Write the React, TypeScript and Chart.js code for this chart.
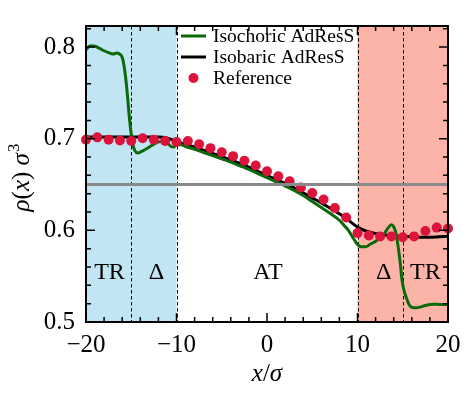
import React, { useEffect, useRef } from 'react';
import { Chart, registerables } from 'chart.js';
Chart.register(...registerables);

// ---- data ----
const xTicks = [-20, -10, 0, 10, 20];
const yTicks = [0.5, 0.6, 0.7, 0.8];

const refX = [-20, -18.75, -17.5, -16.25, -15, -13.75, -12.5, -11.25, -10, -8.75, -7.5, -6.25, -5, -3.75, -2.5, -1.25, 0, 1.25, 2.5, 3.75, 5, 6.25, 7.5, 8.75, 10, 11.25, 12.5, 13.75, 15, 16.25, 17.5, 18.75, 20];
const refY = [0.699, 0.7015, 0.699, 0.698, 0.6975, 0.7005, 0.699, 0.6975, 0.6965, 0.6975, 0.694, 0.6897, 0.6852, 0.681, 0.676, 0.6707, 0.6645, 0.659, 0.6535, 0.6467, 0.6408, 0.6336, 0.6243, 0.614, 0.597, 0.5944, 0.5934, 0.5934, 0.5924, 0.5934, 0.5993, 0.603, 0.602];

const isobaricX = [-20, -19, -18, -17, -16, -15, -14, -13, -12, -11.5, -11, -10.5, -10, -9, -8, -7, -6, -5, -4, -3, -2, -1, 0, 1, 2, 3, 4, 5, 6, 7, 8, 9, 10, 11, 12, 13, 14, 15, 16, 17, 18, 19, 20];
const isobaricY = [0.702, 0.702, 0.702, 0.702, 0.702, 0.702, 0.702, 0.702, 0.702, 0.7015, 0.7005, 0.699, 0.697, 0.694, 0.691, 0.6875, 0.684, 0.6805, 0.677, 0.673, 0.669, 0.6645, 0.66, 0.6555, 0.6515, 0.6465, 0.641, 0.6355, 0.63, 0.624, 0.618, 0.611, 0.6037, 0.599, 0.5965, 0.595, 0.594, 0.5934, 0.593, 0.5925, 0.5925, 0.593, 0.5935];

const isochoricX = [-20, -19.5, -19, -18.5, -18, -17.5, -17, -16.6, -16.3, -16, -15.8, -15.6, -15.4, -15.2, -15, -14.8, -14.6, -14.3, -14, -13.5, -13, -12.5, -12, -11.5, -11, -10.6, -10.3, -10, -9.5, -9, -8, -7, -6, -5, -4, -3, -2, -1, 0, 1, 2, 3, 4, 5, 6, 7, 8, 8.5, 9, 9.5, 10, 10.4, 10.9, 11.4, 12, 12.5, 13, 13.4, 13.75, 14, 14.2, 14.4, 14.55, 14.75, 14.9, 15.1, 15.4, 15.7, 16, 16.5, 17, 17.5, 18, 18.5, 19, 19.5, 20];
const isochoricY = [0.797, 0.8015, 0.801, 0.7985, 0.796, 0.794, 0.7925, 0.7935, 0.7925, 0.789, 0.78, 0.765, 0.745, 0.722, 0.705, 0.693, 0.687, 0.6845, 0.6855, 0.688, 0.691, 0.694, 0.6965, 0.697, 0.695, 0.6915, 0.691, 0.6935, 0.6935, 0.6915, 0.6885, 0.685, 0.6815, 0.678, 0.6745, 0.6705, 0.6665, 0.662, 0.6575, 0.653, 0.6485, 0.6435, 0.638, 0.6315, 0.625, 0.6185, 0.611, 0.6055, 0.6, 0.592, 0.5845, 0.582, 0.582, 0.5848, 0.588, 0.5918, 0.597, 0.603, 0.606, 0.604, 0.5986, 0.588, 0.578, 0.562, 0.547, 0.536, 0.5264, 0.519, 0.516, 0.5155, 0.5165, 0.518, 0.519, 0.5195, 0.5192, 0.519, 0.519];

const guideX = [-20, 20];
const guideY = [0.65, 0.65];

const shadeLeft = [-20, -10];
const shadeRight = [10, 20];
const dashX = [-15, -10, 10, 15];
const regionLabels = ['TR', 'Δ', 'AT', 'Δ', 'TR'];
const regionLabelX = [-17.4, -12.2, 0.1, 12.9, 17.5];
const regionLabelY = 0.5535;

const legendLabels = ['Isochoric AdResS', 'Isobaric AdResS', 'Reference'];

// ---- styles ----
const GREEN = '#0a6a0a';
const RED = '#dc143c';
const BLUE_FILL = 'rgb(193,229,243)';
const RED_FILL = 'rgb(252,180,168)';
const SERIF = '"Liberation Serif", "DejaVu Serif", serif';

const pts = (xs: number[], ys: number[]) => xs.map((x, i) => ({ x, y: ys[i] }));

const fmtX = (v: number) => (v < 0 ? '\u2212' + Math.abs(v) : String(v));

const decor = {
  id: 'decor',
  beforeDatasetsDraw(chart: any) {
    const { ctx, chartArea: a, scales } = chart;
    const x = scales.x;
    ctx.save();
    const fillSpan = (span: number[], color: string) => {
      const p0 = x.getPixelForValue(span[0]);
      const p1 = x.getPixelForValue(span[1]);
      ctx.fillStyle = color;
      ctx.fillRect(p0, a.top, p1 - p0, a.bottom - a.top);
    };
    fillSpan(shadeLeft, BLUE_FILL);
    fillSpan(shadeRight, RED_FILL);
    ctx.strokeStyle = '#000';
    ctx.lineWidth = 1;
    ctx.setLineDash([3.5, 2.5]);
    for (const v of dashX) {
      const p = Math.round(x.getPixelForValue(v)) + 0.5;
      ctx.beginPath();
      ctx.moveTo(p, a.top);
      ctx.lineTo(p, a.bottom);
      ctx.stroke();
    }
    ctx.restore();
  },
  afterDatasetsDraw(chart: any) {
    const { ctx, chartArea: a, scales } = chart;
    const x = scales.x;
    const y = scales.y;
    ctx.save();

    // region labels
    ctx.fillStyle = '#000';
    ctx.font = `24px ${SERIF}`;
    ctx.textAlign = 'center';
    ctx.textBaseline = 'alphabetic';
    regionLabels.forEach((t, i) => {
      ctx.fillText(t, x.getPixelForValue(regionLabelX[i]), y.getPixelForValue(regionLabelY) + 6);
    });

    // inner ticks on all sides
    ctx.strokeStyle = '#000';
    ctx.lineWidth = 1.5;
    const major = 9;
    const minor = 5;
    ctx.beginPath();
    for (let k = -20; k <= 20; k += 2) {
      const p = x.getPixelForValue(k);
      const len = k % 10 === 0 ? major : minor;
      ctx.moveTo(p, a.bottom);
      ctx.lineTo(p, a.bottom - len);
      ctx.moveTo(p, a.top);
      ctx.lineTo(p, a.top + len);
    }
    for (let k = 0; k <= 16; k++) {
      const v = 0.5 + k * 0.02;
      if (v > y.max) break;
      const p = y.getPixelForValue(v);
      const len = k % 5 === 0 ? major : minor;
      ctx.moveTo(a.left, p);
      ctx.lineTo(a.left + len, p);
      ctx.moveTo(a.right, p);
      ctx.lineTo(a.right - len, p);
    }
    ctx.stroke();

    // frame
    ctx.lineWidth = 2;
    ctx.strokeRect(a.left, a.top, a.right - a.left, a.bottom - a.top);

    // legend
    const lx0 = 181;
    const lx1 = 206;
    const tx = 213;
    const rows = [36, 57, 78];
    ctx.font = `19.5px ${SERIF}`;
    ctx.textAlign = 'left';
    ctx.textBaseline = 'middle';
    ctx.lineWidth = 3;
    ctx.strokeStyle = GREEN;
    ctx.beginPath();
    ctx.moveTo(lx0, rows[0]);
    ctx.lineTo(lx1, rows[0]);
    ctx.stroke();
    ctx.strokeStyle = '#000';
    ctx.beginPath();
    ctx.moveTo(lx0, rows[1]);
    ctx.lineTo(lx1, rows[1]);
    ctx.stroke();
    ctx.fillStyle = RED;
    ctx.beginPath();
    ctx.arc((lx0 + lx1) / 2, rows[2], 5, 0, Math.PI * 2);
    ctx.fill();
    ctx.fillStyle = '#000';
    legendLabels.forEach((t, i) => ctx.fillText(t, tx, rows[i] + 1));

    // x-axis title: x/σ
    const it = `italic 25px ${SERIF}`;
    const up = `25px ${SERIF}`;
    const drawPieces = (pieces: [string, string][], cx: number, cy: number) => {
      let total = 0;
      for (const [t, f] of pieces) {
        ctx.font = f;
        total += ctx.measureText(t).width;
      }
      let px = cx - total / 2;
      for (const [t, f] of pieces) {
        ctx.font = f;
        ctx.fillText(t, px, cy);
        px += ctx.measureText(t).width;
      }
    };
    ctx.textAlign = 'left';
    ctx.textBaseline = 'alphabetic';
    drawPieces([['x', it], ['/', up], ['σ', it]], (a.left + a.right) / 2, 381);

    // y-axis title: ρ(x) σ³
    ctx.save();
    ctx.translate(29, (a.top + a.bottom) / 2 + 4);
    ctx.rotate(-Math.PI / 2);
    const pieces: [string, string][] = [['ρ', it], ['(', up], ['x', it], [')', up], [' ', up], ['σ', it]];
    let total = 0;
    for (const [t, f] of pieces) { ctx.font = f; total += ctx.measureText(t).width; }
    ctx.font = `17px ${SERIF}`;
    const supW = ctx.measureText('3').width;
    total += supW;
    let px = -total / 2;
    for (const [t, f] of pieces) {
      ctx.font = f;
      ctx.fillText(t, px, 0);
      px += ctx.measureText(t).width;
    }
    ctx.font = `17px ${SERIF}`;
    ctx.fillText('3', px + 1, -10);
    ctx.restore();

    ctx.restore();
  },
};

export default function App() {
  const ref = useRef<HTMLCanvasElement>(null);
  useEffect(() => {
    const chart = new Chart(ref.current as HTMLCanvasElement, {
      type: 'line',
      data: {
        datasets: [
          { label: 'guide', data: pts(guideX, guideY), borderColor: '#8a8a8a', borderWidth: 3, pointRadius: 0 },
          { label: legendLabels[2], data: pts(refX, refY), showLine: false, pointRadius: 5, pointBackgroundColor: RED, pointBorderWidth: 0, borderColor: RED, clip: false as any },
          { label: legendLabels[0], data: pts(isochoricX, isochoricY), borderColor: GREEN, borderWidth: 3, pointRadius: 0, cubicInterpolationMode: 'monotone' },
          { label: legendLabels[1], data: pts(isobaricX, isobaricY), borderColor: '#000', borderWidth: 3, pointRadius: 0, cubicInterpolationMode: 'monotone' },
        ] as any,
      },
      options: {
        responsive: false,
        animation: false,
        devicePixelRatio: 1,
        layout: { padding: { left: 0, right: 22, top: 10, bottom: 0 } },
        plugins: { legend: { display: false }, tooltip: { enabled: false } },
        events: [],
        scales: {
          x: {
            type: 'linear',
            min: -20,
            max: 20,
            grid: { display: false, drawTicks: false },
            border: { display: false },
            afterBuildTicks: (s: any) => { s.ticks = xTicks.map((v) => ({ value: v })); },
            afterFit: (s: any) => { s.height = 75; },
            ticks: {
              color: '#000',
              font: { family: SERIF, size: 25 },
              padding: 8,
              maxRotation: 0,
              autoSkip: false,
              callback: (v: any) => fmtX(Number(v)),
            },
          },
          y: {
            type: 'linear',
            min: 0.5,
            max: 0.823,
            grid: { display: false, drawTicks: false },
            border: { display: false },
            afterBuildTicks: (s: any) => { s.ticks = yTicks.map((v) => ({ value: v })); },
            afterFit: (s: any) => { s.width = 86; },
            ticks: {
              color: '#000',
              font: { family: SERIF, size: 25 },
              padding: 11,
              autoSkip: false,
              callback: (v: any) => Number(v).toFixed(1),
            },
          },
        },
      } as any,
      plugins: [decor],
    });
    return () => chart.destroy();
  }, []);
  return (
    <div style={{ position: 'fixed', left: 0, top: 0, width: 470, height: 397, background: '#fff' }}>
      <canvas ref={ref} width={470} height={397} style={{ display: 'block', width: 470, height: 397 }} />
    </div>
  );
}
